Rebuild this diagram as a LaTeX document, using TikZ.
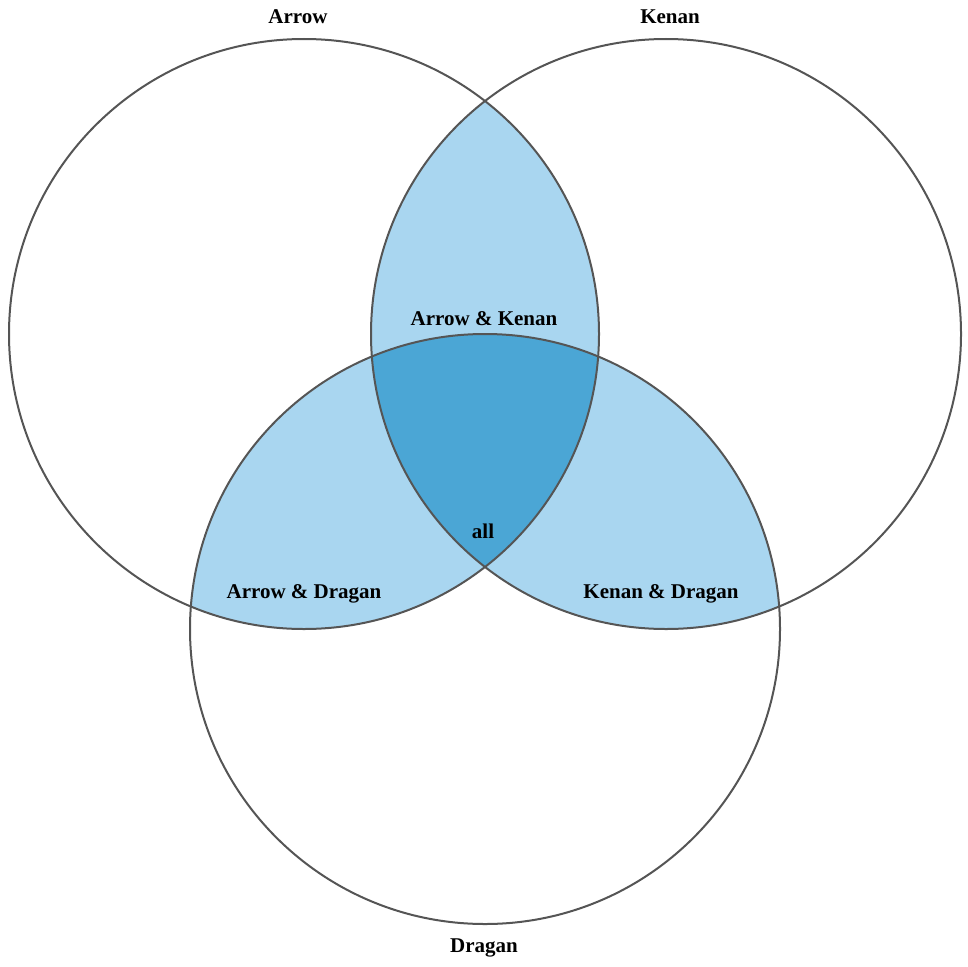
\documentclass[tikz,border=0pt]{standalone}
\usepackage{fontspec}
\setmainfont{Liberation Serif}
\definecolor{pairblue}{HTML}{A9D6F0}
\definecolor{allblue}{HTML}{4BA6D5}
\definecolor{rimgray}{HTML}{555555}
\tikzset{
	setlabel/.style={font=\fontsize{21}{25}\selectfont\bfseries,inner sep=0pt},
	rim/.style={draw=rimgray,line width=2pt}
}
\begin{document}
\begin{tikzpicture}[x=1pt,y=-1pt]
	\def\r{295}
	\useasboundingbox (0,0) rectangle (968,966);
	\coordinate (A) at (304,334);
	\coordinate (K) at (666,334);
	\coordinate (D) at (485,629);
	% pairwise overlaps
	\begin{scope}
		\clip (A) circle(\r);
		\fill[pairblue] (K) circle(\r);
		\fill[pairblue] (D) circle(\r);
	\end{scope}
	\begin{scope}
		\clip (K) circle(\r);
		\fill[pairblue] (D) circle(\r);
	\end{scope}
	% middle
	\begin{scope}
		\clip (A) circle(\r);
		\clip (K) circle(\r);
		\fill[allblue] (D) circle(\r);
	\end{scope}
	\draw[rim] (A) circle(\r);
	\draw[rim] (K) circle(\r);
	\draw[rim] (D) circle(\r);
	\node[setlabel] (arrow) at (298,17) {Arrow};
	\node[setlabel] (kenan) at (670,17) {Kenan};
	\node[setlabel] (dragan) at (484,948) {Dragan};
	\node[setlabel] (ak) at (484,319) {Arrow \& Kenan};
	\node[setlabel] (ad) at (304,594) {Arrow \& Dragan};
	\node[setlabel] (kd) at (661,594) {Kenan \& Dragan};
	\node[setlabel] (all) at (483,531) {all};
\end{tikzpicture}
\end{document}
